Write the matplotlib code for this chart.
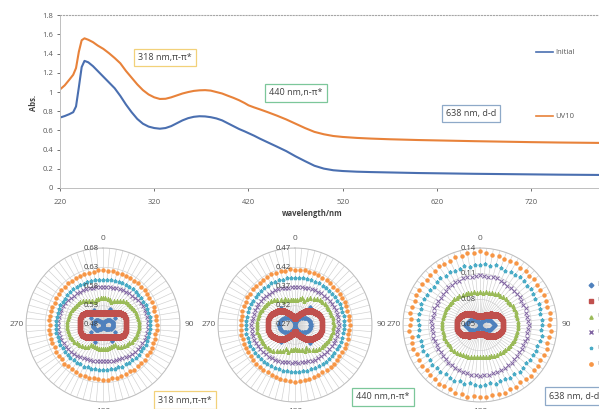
import matplotlib
matplotlib.use("Agg")
import matplotlib.pyplot as plt
import numpy as np
from matplotlib.lines import Line2D
from matplotlib.transforms import offset_copy

plt.rcParams['font.family'] = ['Open Sans', 'DejaVu Sans']

# ---------------- top panel data: absorbance spectra ----------------
wavelength = [220, 225, 230, 234, 237, 240, 243, 246, 250, 255, 260, 266, 272, 278, 284,
              290, 296, 302, 308, 314, 320, 326, 332, 338, 344, 350, 356, 362, 368, 374,
              380, 386, 392, 398, 404, 410, 416, 420, 426, 432, 440, 450, 460, 470, 480,
              490, 500, 510, 520, 535, 550, 570, 600, 630, 660, 690, 720, 750, 792]
abs_initial = [0.734, 0.750, 0.770, 0.790, 0.850, 1.05, 1.26, 1.325, 1.31, 1.27, 1.22, 1.16, 1.10, 1.04, 0.96,
               0.87, 0.79, 0.72, 0.67, 0.64, 0.625, 0.618, 0.625, 0.645, 0.675, 0.705, 0.728, 0.742, 0.748, 0.746,
               0.738, 0.725, 0.705, 0.675, 0.645, 0.615, 0.590, 0.572, 0.545, 0.515, 0.478, 0.432, 0.385, 0.33, 0.28,
               0.232, 0.202, 0.185, 0.177, 0.170, 0.166, 0.162, 0.156, 0.152, 0.148, 0.145, 0.142, 0.139, 0.136]
abs_uv10 = [1.027, 1.07, 1.13, 1.18, 1.25, 1.42, 1.54, 1.56, 1.545, 1.52, 1.485, 1.45, 1.405, 1.355, 1.30,
            1.22, 1.15, 1.08, 1.02, 0.975, 0.945, 0.928, 0.93, 0.945, 0.965, 0.985, 1.0, 1.012, 1.018, 1.02,
            1.015, 1.0, 0.985, 0.962, 0.94, 0.915, 0.885, 0.862, 0.84, 0.82, 0.792, 0.755, 0.715, 0.67, 0.625,
            0.585, 0.56, 0.542, 0.532, 0.522, 0.515, 0.508, 0.500, 0.494, 0.488, 0.483, 0.478, 0.474, 0.470]

# ---------------- polar panels: absorbance vs angle ----------------
angles = list(range(0, 360, 5))
series_names = ['Initial', 'UV10', 'UV20', 'UV30', 'UV40', 'UV50']

# 318 nm
p318_initial = [0.482, 0.483, 0.485, 0.487, 0.489, 0.525, 0.492, 0.494, 0.496, 0.498, 0.500, 0.502,
                0.515, 0.504, 0.505, 0.506, 0.506, 0.505, 0.505, 0.506, 0.506, 0.505, 0.504, 0.503,
                0.515, 0.500, 0.498, 0.496, 0.494, 0.492, 0.528, 0.489, 0.487, 0.485, 0.483, 0.482,
                0.481, 0.482, 0.484, 0.486, 0.488, 0.528, 0.491, 0.493, 0.495, 0.497, 0.499, 0.501,
                0.515, 0.503, 0.504, 0.505, 0.506, 0.506, 0.505, 0.506, 0.505, 0.505, 0.504, 0.503,
                0.515, 0.501, 0.499, 0.497, 0.495, 0.493, 0.525, 0.490, 0.488, 0.486, 0.484, 0.483]
p318_uv10 = [0.511, 0.510, 0.511, 0.512, 0.513, 0.514, 0.516, 0.519, 0.521, 0.524, 0.528, 0.533,
             0.537, 0.540, 0.542, 0.542, 0.541, 0.540, 0.540, 0.540, 0.541, 0.542, 0.542, 0.540,
             0.537, 0.533, 0.528, 0.524, 0.521, 0.519, 0.516, 0.514, 0.513, 0.512, 0.511, 0.510,
             0.511, 0.510, 0.511, 0.512, 0.513, 0.514, 0.516, 0.519, 0.521, 0.524, 0.528, 0.533,
             0.537, 0.540, 0.542, 0.542, 0.541, 0.540, 0.540, 0.540, 0.541, 0.542, 0.542, 0.540,
             0.537, 0.533, 0.528, 0.524, 0.521, 0.519, 0.516, 0.514, 0.513, 0.512, 0.511, 0.510]
p318_uv20 = [0.551, 0.550, 0.549, 0.546, 0.544, 0.548, 0.553, 0.557, 0.560, 0.563, 0.565, 0.567,
             0.568, 0.570, 0.571, 0.572, 0.573, 0.573, 0.574, 0.573, 0.572, 0.571, 0.570, 0.568,
             0.566, 0.563, 0.561, 0.558, 0.554, 0.549, 0.541, 0.539, 0.541, 0.543, 0.543, 0.543,
             0.542, 0.543, 0.543, 0.543, 0.541, 0.539, 0.541, 0.549, 0.554, 0.558, 0.561, 0.563,
             0.566, 0.568, 0.570, 0.571, 0.572, 0.573, 0.574, 0.573, 0.573, 0.572, 0.571, 0.570,
             0.568, 0.567, 0.565, 0.563, 0.560, 0.557, 0.553, 0.548, 0.544, 0.546, 0.549, 0.550]
p318_uv30 = [0.578, 0.579, 0.580, 0.579, 0.581, 0.582, 0.584, 0.585, 0.587, 0.588, 0.590, 0.591,
             0.593, 0.594, 0.595, 0.596, 0.597, 0.597, 0.598, 0.597, 0.596, 0.596, 0.595, 0.593,
             0.592, 0.590, 0.588, 0.586, 0.584, 0.582, 0.580, 0.578, 0.577, 0.576, 0.575, 0.575,
             0.574, 0.575, 0.575, 0.576, 0.577, 0.578, 0.580, 0.582, 0.584, 0.586, 0.588, 0.590,
             0.592, 0.593, 0.595, 0.596, 0.596, 0.597, 0.598, 0.597, 0.597, 0.596, 0.595, 0.594,
             0.593, 0.591, 0.590, 0.588, 0.587, 0.585, 0.584, 0.582, 0.581, 0.579, 0.580, 0.579]
p318_uv40 = [0.598, 0.597, 0.599, 0.598, 0.600, 0.599, 0.601, 0.600, 0.602, 0.601, 0.600, 0.602,
             0.601, 0.603, 0.602, 0.601, 0.603, 0.602, 0.601, 0.603, 0.602, 0.601, 0.603, 0.602,
             0.601, 0.600, 0.602, 0.601, 0.599, 0.600, 0.598, 0.599, 0.597, 0.598, 0.596, 0.597,
             0.596, 0.597, 0.596, 0.598, 0.597, 0.599, 0.598, 0.600, 0.599, 0.601, 0.600, 0.602,
             0.601, 0.603, 0.602, 0.601, 0.603, 0.602, 0.601, 0.603, 0.602, 0.601, 0.603, 0.602,
             0.601, 0.600, 0.602, 0.600, 0.601, 0.599, 0.600, 0.598, 0.599, 0.597, 0.598, 0.597]
p318_uv50 = [0.622, 0.621, 0.623, 0.620, 0.622, 0.619, 0.621, 0.620, 0.622, 0.619, 0.621, 0.620,
             0.619, 0.621, 0.620, 0.618, 0.620, 0.619, 0.621, 0.620, 0.618, 0.620, 0.619, 0.621,
             0.620, 0.618, 0.621, 0.619, 0.620, 0.622, 0.619, 0.621, 0.620, 0.622, 0.621, 0.623,
             0.624, 0.622, 0.621, 0.623, 0.620, 0.622, 0.621, 0.619, 0.620, 0.622, 0.619, 0.621,
             0.620, 0.618, 0.620, 0.619, 0.621, 0.620, 0.618, 0.620, 0.619, 0.621, 0.620, 0.618,
             0.620, 0.619, 0.621, 0.620, 0.622, 0.619, 0.621, 0.620, 0.622, 0.620, 0.621, 0.623]

# 440 nm
p440_initial = [0.272, 0.273, 0.275, 0.278, 0.281, 0.284, 0.287, 0.290, 0.330, 0.296, 0.299, 0.302,
                0.304, 0.306, 0.308, 0.309, 0.310, 0.311, 0.310, 0.311, 0.310, 0.309, 0.308, 0.306,
                0.304, 0.302, 0.299, 0.296, 0.330, 0.290, 0.287, 0.284, 0.281, 0.278, 0.275, 0.273,
                0.272, 0.273, 0.275, 0.278, 0.281, 0.284, 0.287, 0.290, 0.328, 0.296, 0.299, 0.302,
                0.304, 0.306, 0.308, 0.309, 0.310, 0.311, 0.310, 0.311, 0.310, 0.309, 0.308, 0.306,
                0.304, 0.302, 0.299, 0.296, 0.328, 0.290, 0.287, 0.284, 0.281, 0.278, 0.275, 0.273]
p440_uv10 = [0.288, 0.289, 0.291, 0.294, 0.298, 0.302, 0.306, 0.311, 0.316, 0.321, 0.326, 0.330,
             0.333, 0.336, 0.338, 0.339, 0.340, 0.340, 0.340, 0.340, 0.340, 0.339, 0.338, 0.336,
             0.333, 0.330, 0.326, 0.321, 0.316, 0.311, 0.306, 0.302, 0.298, 0.294, 0.291, 0.289,
             0.288, 0.289, 0.291, 0.294, 0.298, 0.302, 0.306, 0.311, 0.316, 0.321, 0.326, 0.330,
             0.333, 0.336, 0.338, 0.339, 0.340, 0.340, 0.340, 0.340, 0.340, 0.339, 0.338, 0.336,
             0.333, 0.330, 0.326, 0.321, 0.316, 0.311, 0.306, 0.302, 0.298, 0.294, 0.291, 0.289]
p440_uv20 = [0.334, 0.335, 0.338, 0.343, 0.337, 0.345, 0.350, 0.354, 0.357, 0.360, 0.362, 0.364,
             0.365, 0.366, 0.367, 0.368, 0.369, 0.369, 0.370, 0.369, 0.369, 0.368, 0.367, 0.366,
             0.364, 0.362, 0.360, 0.357, 0.354, 0.350, 0.345, 0.337, 0.343, 0.338, 0.335, 0.334,
             0.333, 0.334, 0.336, 0.342, 0.336, 0.344, 0.349, 0.353, 0.357, 0.360, 0.362, 0.364,
             0.365, 0.366, 0.368, 0.368, 0.369, 0.370, 0.369, 0.369, 0.368, 0.367, 0.366, 0.365,
             0.364, 0.362, 0.360, 0.357, 0.354, 0.350, 0.345, 0.338, 0.343, 0.338, 0.335, 0.334]
p440_uv30 = [0.368, 0.368, 0.369, 0.370, 0.372, 0.374, 0.375, 0.376, 0.377, 0.378, 0.379, 0.380,
             0.381, 0.381, 0.382, 0.382, 0.383, 0.383, 0.383, 0.383, 0.382, 0.382, 0.381, 0.381,
             0.380, 0.379, 0.378, 0.377, 0.376, 0.375, 0.374, 0.372, 0.370, 0.369, 0.368, 0.368,
             0.367, 0.368, 0.368, 0.369, 0.371, 0.373, 0.375, 0.376, 0.377, 0.378, 0.379, 0.380,
             0.381, 0.381, 0.382, 0.383, 0.383, 0.383, 0.383, 0.382, 0.382, 0.381, 0.381, 0.380,
             0.380, 0.379, 0.378, 0.377, 0.376, 0.375, 0.374, 0.372, 0.371, 0.369, 0.368, 0.368]
p440_uv40 = [0.393, 0.392, 0.394, 0.393, 0.395, 0.394, 0.396, 0.395, 0.397, 0.396, 0.395, 0.397,
             0.396, 0.398, 0.397, 0.396, 0.398, 0.397, 0.396, 0.398, 0.397, 0.396, 0.398, 0.397,
             0.396, 0.395, 0.397, 0.396, 0.394, 0.395, 0.393, 0.394, 0.392, 0.393, 0.391, 0.392,
             0.391, 0.392, 0.391, 0.393, 0.392, 0.394, 0.393, 0.395, 0.394, 0.396, 0.395, 0.397,
             0.396, 0.398, 0.397, 0.396, 0.398, 0.397, 0.396, 0.398, 0.397, 0.396, 0.398, 0.397,
             0.396, 0.395, 0.397, 0.395, 0.396, 0.394, 0.395, 0.393, 0.394, 0.392, 0.393, 0.392]
p440_uv50 = [0.414, 0.413, 0.415, 0.412, 0.414, 0.413, 0.412, 0.414, 0.413, 0.411, 0.413, 0.412,
             0.411, 0.413, 0.412, 0.410, 0.412, 0.411, 0.413, 0.412, 0.410, 0.412, 0.411, 0.413,
             0.412, 0.411, 0.413, 0.412, 0.414, 0.413, 0.412, 0.414, 0.413, 0.415, 0.414, 0.416,
             0.417, 0.415, 0.414, 0.416, 0.413, 0.414, 0.412, 0.413, 0.411, 0.413, 0.412, 0.411,
             0.412, 0.410, 0.412, 0.411, 0.413, 0.412, 0.410, 0.412, 0.411, 0.413, 0.412, 0.411,
             0.413, 0.412, 0.414, 0.413, 0.412, 0.414, 0.413, 0.415, 0.413, 0.414, 0.413, 0.415]

# 638 nm
p638_initial = [0.0510, 0.0515, 0.0520, 0.0530, 0.0540, 0.0550, 0.0560, 0.0570, 0.0580, 0.0590, 0.0600, 0.0610,
                0.0620, 0.0630, 0.0640, 0.0650, 0.0660, 0.0665, 0.0670, 0.0665, 0.0660, 0.0650, 0.0640, 0.0630,
                0.0620, 0.0610, 0.0600, 0.0590, 0.0580, 0.0570, 0.0560, 0.0550, 0.0540, 0.0530, 0.0520, 0.0515,
                0.0510, 0.0515, 0.0520, 0.0530, 0.0540, 0.0550, 0.0560, 0.0570, 0.0580, 0.0590, 0.0600, 0.0610,
                0.0620, 0.0630, 0.0640, 0.0650, 0.0660, 0.0665, 0.0670, 0.0665, 0.0660, 0.0650, 0.0640, 0.0630,
                0.0620, 0.0610, 0.0600, 0.0590, 0.0580, 0.0570, 0.0560, 0.0550, 0.0540, 0.0530, 0.0520, 0.0515]
p638_uv10 = [0.0605, 0.0600, 0.0605, 0.0610, 0.0615, 0.0625, 0.0635, 0.0645, 0.0660, 0.0675, 0.0690, 0.0710,
             0.0725, 0.0740, 0.0755, 0.0765, 0.0770, 0.0770, 0.0770, 0.0770, 0.0770, 0.0765, 0.0755, 0.0745,
             0.0730, 0.0715, 0.0695, 0.0680, 0.0665, 0.0650, 0.0635, 0.0625, 0.0615, 0.0610, 0.0605, 0.0600,
             0.0605, 0.0600, 0.0605, 0.0610, 0.0615, 0.0625, 0.0635, 0.0645, 0.0660, 0.0675, 0.0690, 0.0710,
             0.0725, 0.0740, 0.0755, 0.0765, 0.0770, 0.0770, 0.0770, 0.0770, 0.0770, 0.0765, 0.0755, 0.0745,
             0.0730, 0.0715, 0.0695, 0.0680, 0.0665, 0.0650, 0.0635, 0.0625, 0.0615, 0.0610, 0.0605, 0.0600]
p638_uv20 = [0.0885, 0.0880, 0.0895, 0.0890, 0.0900, 0.0905, 0.0915, 0.0910, 0.0925, 0.0930, 0.0925, 0.0935,
             0.0940, 0.0935, 0.0945, 0.0940, 0.0945, 0.0940, 0.0945, 0.0940, 0.0945, 0.0935, 0.0940, 0.0935,
             0.0930, 0.0935, 0.0925, 0.0920, 0.0910, 0.0905, 0.0900, 0.0895, 0.0890, 0.0885, 0.0880, 0.0875,
             0.0875, 0.0880, 0.0885, 0.0890, 0.0895, 0.0900, 0.0905, 0.0910, 0.0920, 0.0925, 0.0935, 0.0930,
             0.0935, 0.0940, 0.0945, 0.0940, 0.0945, 0.0940, 0.0945, 0.0940, 0.0945, 0.0940, 0.0935, 0.0940,
             0.0930, 0.0935, 0.0925, 0.0930, 0.0915, 0.0920, 0.0905, 0.0900, 0.0895, 0.0890, 0.0895, 0.0880]
p638_uv30 = [0.108, 0.108, 0.107, 0.108, 0.108, 0.107, 0.107, 0.106, 0.107, 0.106, 0.106, 0.107,
             0.106, 0.106, 0.107, 0.106, 0.106, 0.106, 0.107, 0.106, 0.106, 0.107, 0.106, 0.106,
             0.107, 0.106, 0.107, 0.107, 0.108, 0.107, 0.108, 0.108, 0.109, 0.108, 0.109, 0.109,
             0.110, 0.109, 0.109, 0.108, 0.109, 0.108, 0.108, 0.107, 0.108, 0.107, 0.107, 0.106,
             0.107, 0.106, 0.106, 0.107, 0.106, 0.106, 0.106, 0.107, 0.106, 0.106, 0.107, 0.106,
             0.107, 0.106, 0.107, 0.107, 0.108, 0.107, 0.108, 0.107, 0.108, 0.108, 0.107, 0.108]
p638_uv40 = [0.120, 0.121, 0.120, 0.122, 0.121, 0.120, 0.122, 0.121, 0.123, 0.122, 0.121, 0.123,
             0.122, 0.121, 0.123, 0.122, 0.121, 0.123, 0.122, 0.121, 0.123, 0.122, 0.121, 0.122,
             0.121, 0.122, 0.120, 0.121, 0.122, 0.120, 0.121, 0.119, 0.120, 0.121, 0.119, 0.120,
             0.121, 0.120, 0.119, 0.121, 0.120, 0.122, 0.121, 0.120, 0.122, 0.121, 0.123, 0.122,
             0.121, 0.123, 0.122, 0.121, 0.123, 0.122, 0.121, 0.123, 0.122, 0.121, 0.123, 0.122,
             0.121, 0.122, 0.120, 0.121, 0.122, 0.120, 0.121, 0.119, 0.120, 0.121, 0.119, 0.120]
p638_uv50 = [0.136, 0.134, 0.133, 0.134, 0.132, 0.133, 0.134, 0.132, 0.133, 0.131, 0.133, 0.132,
             0.131, 0.133, 0.132, 0.131, 0.133, 0.132, 0.131, 0.133, 0.132, 0.131, 0.133, 0.132,
             0.131, 0.133, 0.132, 0.134, 0.133, 0.132, 0.134, 0.133, 0.135, 0.134, 0.133, 0.135,
             0.134, 0.133, 0.135, 0.133, 0.134, 0.132, 0.133, 0.134, 0.132, 0.133, 0.131, 0.133,
             0.132, 0.131, 0.133, 0.132, 0.131, 0.133, 0.132, 0.131, 0.133, 0.132, 0.131, 0.133,
             0.132, 0.133, 0.131, 0.133, 0.132, 0.134, 0.133, 0.132, 0.134, 0.133, 0.135, 0.134]

r_ticks_318 = [0.48, 0.53, 0.58, 0.63, 0.68]
r_ticks_440 = [0.27, 0.32, 0.37, 0.42, 0.47]
r_ticks_638 = [0.05, 0.08, 0.11, 0.14]

# styling
W, H = 599, 409
text_grey = '#595959'
axis_grey = '#bfbfbf'
radar_styles = [
    dict(marker='D', color='#4F81BD', ms=1.8),
    dict(marker='s', color='#C0504D', ms=3.2),
    dict(marker='^', color='#9BBB59', ms=2.2),
    dict(marker='x', color='#8064A2', ms=2.2, mew=0.7),
    dict(marker='*', color='#4BACC6', ms=2.6),
    dict(marker='o', color='#F79646', ms=2.2),
]


def fx(px):
    return px / W


def fy(py):
    return 1 - py / H


fig = plt.figure(figsize=(5.99, 4.09), dpi=100)

# ---------------- top: line chart ----------------
ax = fig.add_axes([fx(60), fy(188), fx(599 - 60), fy(15.3) - fy(188)])
ax.plot(wavelength, abs_initial, color='#4A6FB0', lw=1.5)
ax.plot(wavelength, abs_uv10, color='#E8823A', lw=1.5)
ax.set_xlim(220, 792)
ax.set_ylim(0, 1.8)
ax.set_xticks([220, 320, 420, 520, 620, 720])
ax.set_yticks(np.arange(0, 1.81, 0.2))
ax.set_yticklabels(['0', '0.2', '0.4', '0.6', '0.8', '1', '1.2', '1.4', '1.6', '1.8'])
ax.tick_params(labelsize=5.5, colors=text_grey, length=2, width=0.6, pad=3)
ax.tick_params(axis='x', pad=6)
for s in ['left', 'bottom']:
    ax.spines[s].set_color(axis_grey)
    ax.spines[s].set_linewidth(0.7)
ax.spines['right'].set_visible(False)
ax.spines['top'].set_color('#a6a6a6')
ax.spines['top'].set_linestyle(':')
ax.spines['top'].set_linewidth(0.8)

fig.text(fx(312), fy(213), 'wavelength/nm', fontsize=5.5, fontweight='bold',
         color='#404040', ha='center', va='center')
fig.text(fx(33), fy(103), 'Abs.', fontsize=5.5, fontweight='bold', color='#404040',
         rotation=90, ha='center', va='center')

# legend of top chart
for name, col, yy in [('Initial', '#4A6FB0', 52), ('UV10', '#E8823A', 116)]:
    fig.add_artist(Line2D([fx(536), fx(553)], [fy(yy), fy(yy)], color=col, lw=1.2,
                          transform=fig.transFigure))
    fig.text(fx(555), fy(yy), name, fontsize=5.5, color=text_grey, va='center', ha='left')


def label_box(x, y, txt, edge, ha='center'):
    fig.text(fx(x), fy(y), txt, fontsize=6.5, color='#404040', ha=ha, va='center',
             bbox=dict(boxstyle='square,pad=0.45', fc='white', ec=edge, lw=0.9))


label_box(165, 57.5, '318 nm,π-π*', '#F2D17A')
label_box(296, 93, '440 nm,n-π*', '#7CC79A')
label_box(471, 113.5, '638 nm, d-d', '#8EA9C8')

# ---------------- bottom: three radar (polar) charts ----------------
theta = np.deg2rad(angles)
panels = [
    (103, [p318_initial, p318_uv10, p318_uv20, p318_uv30, p318_uv40, p318_uv50], r_ticks_318),
    (295, [p440_initial, p440_uv10, p440_uv20, p440_uv30, p440_uv40, p440_uv50], r_ticks_440),
    (480, [p638_initial, p638_uv10, p638_uv20, p638_uv30, p638_uv40, p638_uv50], r_ticks_638),
]
R = 77
cy = 325
for cx, series, rt in panels:
    pax = fig.add_axes([fx(cx - R), fy(cy + R), fx(2 * R), fy(cy - R) - fy(cy + R)],
                       projection='polar')
    pax.set_theta_zero_location('N')
    pax.set_theta_direction(-1)
    for vals, st in zip(series, radar_styles):
        pax.plot(theta, vals, linestyle='none', **st)
    pax.set_ylim(rt[0], rt[-1])
    pax.set_yticks(rt)
    pax.set_yticklabels([])
    pax.set_thetagrids(angles, labels=[str(a) if a % 90 == 0 else '' for a in angles])
    pax.tick_params(axis='x', labelsize=6, colors=text_grey, pad=-4)
    pax.grid(True, color='#cfcfcf', lw=0.45)
    pax.spines['polar'].set_color(axis_grey)
    pax.spines['polar'].set_linewidth(0.7)
    tr = offset_copy(pax.transData, fig=fig, x=-3, y=0, units='points')
    for t in rt:
        pax.text(0, t, f'{t:.2f}', transform=tr, ha='right', va='center',
                 fontsize=5.5, color='#404040')

# legend of the radar charts (cut by the right edge)
for i, (name, st) in enumerate(zip(series_names, radar_styles)):
    yy = 285 + i * 15.8
    fig.add_artist(Line2D([fx(591)], [fy(yy)], linestyle='none', marker=st['marker'],
                          color=st['color'], ms=2.4, transform=fig.transFigure))
    fig.text(fx(597), fy(yy), name, fontsize=5.5, color=text_grey, va='center', ha='left')

label_box(185, 400, '318 nm,π-π*', '#F2D17A')
label_box(383, 397, '440 nm,n-π*', '#7CC79A')
label_box(549, 396, '638 nm, d-d', '#8EA9C8', ha='left')

fig.savefig('out.png', dpi=100)
